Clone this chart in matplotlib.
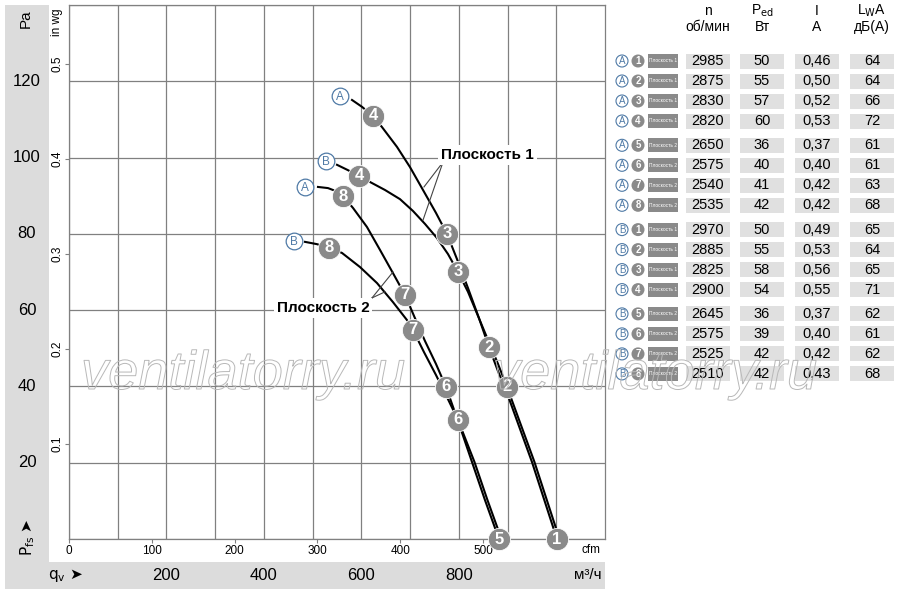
import matplotlib
matplotlib.use("Agg")
import matplotlib.pyplot as plt
from matplotlib.patches import Rectangle, Circle
import matplotlib.patheffects as pe

FONT = ['Liberation Sans Narrow', 'Liberation Sans', 'DejaVu Sans']
plt.rcParams['font.family'] = FONT

# ---- curve data: airflow qv [m3/h], static pressure [Pa]
a1_q = [580.8, 601.3, 623.8, 642.3, 673.1, 699.8, 726.5, 753.1, 775.7, 796.2, 818.8,
        841.4, 861.9, 880.4, 898.8, 950.1, 1001.4]
a1_p = [115.1, 113.3, 110.9, 108.0, 102.8, 97.5, 91.5, 85.5, 80.0, 73.4, 65.8,
        57.9, 50.3, 44.0, 38.3, 20.2, 0.0]
b1_q = [550.0, 572.5, 595.1, 617.7, 648.5, 679.3, 705.9, 730.6, 755.2, 777.8, 798.3,
        818.8, 839.3, 859.8, 880.4, 898.8, 955.2, 1006.6]
b1_p = [98.1, 96.7, 95.2, 93.6, 91.5, 89.1, 86.0, 82.6, 78.9, 74.7, 70.0,
        64.8, 58.5, 52.2, 45.9, 39.9, 20.2, 0.0]
a2_q = [511.0, 531.5, 547.9, 562.3, 582.8, 611.5, 638.2, 664.9, 689.5, 710.0, 730.6,
        753.1, 773.6, 800.3, 827.0, 853.7, 882.4]
a2_p = [92.3, 92.0, 91.2, 89.9, 86.8, 81.8, 75.8, 69.7, 64.0, 57.9, 51.9,
        45.9, 39.9, 30.2, 20.2, 10.2, 0.0]
b2_q = [484.3, 508.9, 533.6, 560.2, 597.2, 632.1, 664.9, 693.6, 705.9, 728.5, 753.1,
        775.7, 798.3, 832.1, 858.8, 887.5]
b2_p = [77.9, 77.3, 76.3, 75.0, 71.3, 67.1, 62.1, 57.4, 54.8, 49.0, 43.0,
        37.2, 31.2, 20.2, 10.2, 0.0]

# operating points (number, qv, Pa)
a1_pts = [(4, 623.8, 110.9), (3, 775.7, 80.0), (2, 861.9, 50.3), (1, 1001.4, 0.0)]
b1_pts = [(4, 595.1, 95.2), (3, 798.3, 70.0), (2, 898.8, 39.9)]
a2_pts = [(8, 562.3, 89.9), (7, 689.5, 64.0), (6, 773.6, 39.9), (5, 882.4, 0.0)]
b2_pts = [(8, 533.6, 76.3), (7, 705.9, 54.8), (6, 798.3, 31.2)]

# curve tags (letter, qv, Pa)
tags = [('A', 556.2, 116.2), ('B', 527.5, 99.0), ('A', 484.3, 92.3), ('B', 461.9, 78.1)]

pa_ticks = [20, 40, 60, 80, 100, 120]
inwg_ticks = [0.1, 0.2, 0.3, 0.4, 0.5]
cfm_ticks = [0, 100, 200, 300, 400, 500]
m3h_labels = [200, 400, 600, 800]

# ---- table
t_letter = ['A'] * 8 + ['B'] * 8
t_num = [1, 2, 3, 4, 5, 6, 7, 8] * 2
t_plane = [1, 1, 1, 1, 2, 2, 2, 2] * 2
t_n = [2985, 2875, 2830, 2820, 2650, 2575, 2540, 2535,
       2970, 2885, 2825, 2900, 2645, 2575, 2525, 2510]
t_ped = [50, 55, 57, 60, 36, 40, 41, 42, 50, 55, 58, 54, 36, 39, 42, 42]
t_i = ['0,46', '0,50', '0,52', '0,53', '0,37', '0,40', '0,42', '0,42',
       '0,49', '0,53', '0,56', '0,55', '0,37', '0,40', '0,42', '0,43']
t_lwa = [64, 64, 66, 72, 61, 61, 63, 68, 65, 64, 65, 71, 62, 61, 62, 68]

W, H = 900, 594
GREY = '#dcdcdc'
DOT = '#8a8a8a'
BLUE = '#4f7aa6'
X0, X1, Y0, Y1 = 69, 605, 539, 5    # plot frame in pixels
QMAX, PMAX = 1100, 140

fig = plt.figure(figsize=(W / 100, H / 100), dpi=100)

# overlay in pixel coordinates for bands and table
ov = fig.add_axes([0, 0, 1, 1], zorder=-1)
ov.set_xlim(0, W)
ov.set_ylim(H, 0)
ov.axis('off')
ov.add_patch(Rectangle((5, 5), 44, 558, color=GREY, lw=0))
ov.add_patch(Rectangle((5, 562), 600, 27, color=GREY, lw=0))

ax = fig.add_axes([X0 / W, 1 - Y0 / H, (X1 - X0) / W, (Y0 - Y1) / H])
ax.set_xlim(0, QMAX)
ax.set_ylim(0, PMAX)
ax.set_xticks(range(0, 1001, 100))
ax.set_yticks(range(0, 141, 20))
ax.tick_params(length=0, labelbottom=False, labelleft=False)
ax.grid(True, color='#808080', lw=0.9)
for s in ax.spines.values():
    s.set_color('#808080')
    s.set_linewidth(0.9)

secx = ax.secondary_xaxis('bottom', functions=(lambda q: q / 1.699, lambda c: c * 1.699))
secx.set_xticks(cfm_ticks)
secx.tick_params(length=3, width=0.8, color='#808080', labelsize=8.5, pad=1)
secx.spines['bottom'].set_visible(False)
secy = ax.secondary_yaxis('left', functions=(lambda p: p / 249.09, lambda w: w * 249.09))
secy.set_yticks(inwg_ticks)
secy.set_yticklabels([f'{v:.1f}' for v in inwg_ticks], rotation=90, va='center')
secy.tick_params(length=3, width=0.8, color='#808080', labelsize=8.5, pad=1)
secy.spines['left'].set_visible(False)

for q, p in [(a1_q, a1_p), (b1_q, b1_p), (a2_q, a2_p), (b2_q, b2_p)]:
    ax.plot(q, p, color='black', lw=1.5, zorder=3, clip_on=False, solid_joinstyle='round')

for pts in [a1_pts, b1_pts, a2_pts, b2_pts]:
    for num, q, p in pts:
        ax.plot(q, p, 'o', ms=16, mfc=DOT, mec='white', mew=0.6, zorder=5, clip_on=False)
        ax.text(q, p, str(num), color='white', fontsize=12, fontweight='bold',
                ha='center', va='center', zorder=6)

for let, q, p in tags:
    ax.plot(q, p, 'o', ms=12, mfc='white', mec=BLUE, mew=0.9, zorder=5)
    ax.text(q, p - 0.2, let, color=BLUE, fontsize=8.5, ha='center', va='center', zorder=6)

# plane labels with leader lines
ax.plot([767.5, 728.5], [98.8, 92.3], color='#444', lw=0.8, zorder=4)
ax.plot([767.5, 726.5], [98.8, 83.6], color='#444', lw=0.8, zorder=4)
ax.plot([621.8, 664.9], [63.2, 70.0], color='#444', lw=0.8, zorder=4)
ax.plot([621.8, 648.5], [63.2, 64.8], color='#444', lw=0.8, zorder=4)
bb = dict(facecolor='white', edgecolor='none', pad=2)
ax.text(858.8, 100.7, 'Плоскость 1', fontsize=11, fontweight='bold', ha='center',
        va='center', bbox=bb, zorder=4)
ax.text(521.2, 60.6, 'Плоскость 2', fontsize=11, fontweight='bold', ha='center',
        va='center', bbox=bb, zorder=4)

# Pa scale in left band
for p in pa_ticks:
    ov.text(27, Y0 - p * (Y0 - Y1) / PMAX, str(p), fontsize=12, ha='center', va='center')
ov.text(26, 19, 'Pa', fontsize=11, rotation=90, ha='center', va='center')
ov.text(57, 22, 'in wg', fontsize=8.5, rotation=90, ha='center', va='center')
ov.text(28, 537, r'P$_{\mathrm{fs}}$ ➤', fontsize=11, rotation=90, ha='center', va='center',
        family=['DejaVu Sans'])

# m3/h scale in bottom band
for q in m3h_labels:
    ov.text(X0 + q * (X1 - X0) / QMAX, 576, str(q), fontsize=12, ha='center', va='center')
ov.text(66, 576, r'q$_{\mathrm{v}}$ ➤', fontsize=11, ha='center', va='center',
        family=['DejaVu Sans'])
ov.text(588, 575, 'м³/ч', fontsize=11, ha='center', va='center')
ov.text(591, 550, 'cfm', fontsize=8.5, ha='center', va='center')

# table header
cols = [708, 762, 817, 872]
heads = [('n', 'об/мин'), (r'P$_{\mathrm{ed}}$', 'Вт'), ('I', 'A'), (r'L$_{\mathrm{W}}$A', 'дБ(A)')]
for cx, (h1, h2) in zip(cols, heads):
    ov.text(cx, 11, h1, fontsize=10, ha='center', va='center')
    ov.text(cx, 27, h2, fontsize=10, ha='center', va='center')

for i in range(len(t_n)):
    y = 61 + 20 * (i % 4) + 84.3 * (i // 4)
    ov.add_patch(Circle((622, y), 6, facecolor='white', edgecolor=BLUE, lw=0.8))
    ov.text(622, y, t_letter[i], fontsize=7, color=BLUE, ha='center', va='center')
    ov.add_patch(Circle((638, y), 6.5, facecolor=DOT, edgecolor='none'))
    ov.text(638, y, str(t_num[i]), fontsize=7, color='white', fontweight='bold',
            ha='center', va='center')
    ov.add_patch(Rectangle((648, y - 7), 30, 14, facecolor=DOT, edgecolor='none'))
    ov.text(663, y, f'Плоскость {t_plane[i]}', fontsize=3.5, color='white',
            ha='center', va='center')
    vals = [str(t_n[i]), str(t_ped[i]), t_i[i], str(t_lwa[i])]
    for cx, v in zip(cols, vals):
        ov.add_patch(Rectangle((cx - 22, y - 7.5), 44, 15, facecolor='#e0e0e0', edgecolor='none'))
        ov.text(cx, y, v, fontsize=10.5, ha='center', va='center')

# watermark
for cx in [243, 655]:
    fig.text(cx / W, 1 - 375 / H, 'ventilatorry.ru', fontsize=39, style='italic',
             color='none', ha='center', va='center', zorder=10,
             path_effects=[pe.withStroke(linewidth=0.7, foreground='#b8b8b8')])

fig.savefig('out.png', dpi=100)
